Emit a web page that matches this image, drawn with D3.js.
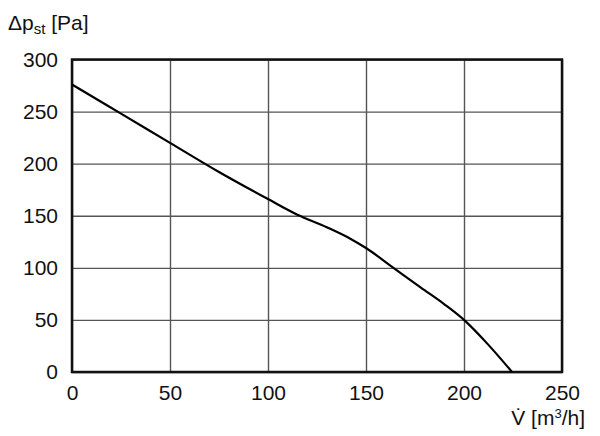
<!DOCTYPE html>
<html>
<head>
<meta charset="utf-8">
<script src="https://cdn.jsdelivr.net/npm/d3@7"></script>
<style>
  body { margin: 0; background: #fff; }
  text { font-family: "Liberation Sans", Arial, sans-serif; fill: #111; }
</style>
</head>
<body>
<svg id="chart"></svg>
<script>
// fan curve
var flow     = [0, 25, 50, 75, 100, 115, 130, 142, 150, 164, 178, 190, 200, 212, 224.5];
var pressure = [276, 248, 220, 192, 166, 151, 139, 128, 119, 100, 81, 65, 50, 27, 0];
var xTicks = [0, 50, 100, 150, 200, 250];
var yTicks = [0, 50, 100, 150, 200, 250, 300];

var svgWidth = 600, svgHeight = 436;
var plotLeft = 72, plotTop = 59.5, plotRight = 562, plotBottom = 372;
var w = plotRight - plotLeft, h = plotBottom - plotTop;

var svg = d3.select("#chart")
    .attr("width", svgWidth)
    .attr("height", svgHeight);

var xScale = d3.scaleLinear().domain([0, 250]).range([0, w]);
var yScale = d3.scaleLinear().domain([0, 300]).range([h, 0]);

var g = svg.append("g").attr("transform", "translate(" + plotLeft + "," + plotTop + ")");

// grid + labels from axes
var xAxis = d3.axisBottom(xScale).tickValues(xTicks).tickSize(-h).tickPadding(13);
var yAxis = d3.axisLeft(yScale).tickValues(yTicks).tickSize(-w).tickPadding(14);

var gx = g.append("g").attr("transform", "translate(0," + h + ")").call(xAxis);
var gy = g.append("g").call(yAxis);

[gx, gy].forEach(function(a){
    a.select(".domain").remove();
    a.selectAll(".tick line").attr("stroke", "#555").attr("stroke-width", 1.4);
    a.selectAll(".tick text").style("font-size", "21px").attr("fill", "#111");
});

// frame
g.append("rect")
    .attr("width", w)
    .attr("height", h)
    .attr("fill", "none")
    .attr("stroke", "#111")
    .attr("stroke-width", 2.5);

var line = d3.line()
    .x(function(d, i){ return xScale(flow[i]); })
    .y(function(d){ return yScale(d); })
    .curve(d3.curveMonotoneX);

g.append("path")
    .datum(pressure)
    .attr("d", line)
    .attr("fill", "none")
    .attr("stroke", "#000")
    .attr("stroke-width", 2.2);

// y title
var yt = svg.append("text").attr("x", 8).attr("y", 30).style("font-size", "21px");
yt.append("tspan").text("\u0394p");
yt.append("tspan").attr("dy", 4).style("font-size", "15px").text("st");
yt.append("tspan").attr("dy", -4).text(" [Pa]");

// x title
var xt = svg.append("text").attr("x", 585).attr("y", 425)
    .attr("text-anchor", "end").style("font-size", "21px");
xt.append("tspan").text("V\u0307 [m");
xt.append("tspan").attr("dy", -7).style("font-size", "13px").text("3");
xt.append("tspan").attr("dy", 7).text("/h]");
</script>
</body>
</html>
